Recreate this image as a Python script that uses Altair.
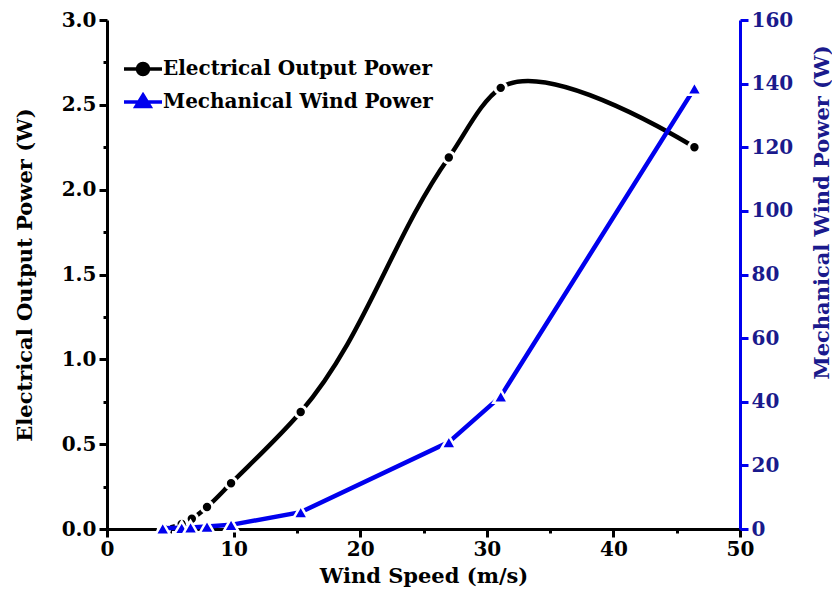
import altair as alt
import pandas as pd

# Electrical output power (left axis)
ws_elec = [4.5, 5.9, 6.7, 7.9, 9.8, 15.3, 27.0, 31.1, 46.4]
p_elec = [0.0, 0.03, 0.06, 0.13, 0.27, 0.69, 2.19, 2.60, 2.25]
# Mechanical wind power (right axis)
ws_mech = [4.4, 5.9, 6.6, 7.9, 9.8, 15.3, 27.0, 31.1, 46.4]
p_mech = [0.2, 0.4, 0.5, 0.8, 1.3, 5.3, 27.3, 41.7, 138.5]

series_names = ["Electrical Output Power", "Mechanical Wind Power"]
series_colors = ["#000000", "#0000ee"]
x_ticks = [0, 5, 10, 15, 20, 25, 30, 35, 40, 45, 50]
yl_ticks = [i * 0.25 for i in range(13)]
yr_ticks = [i * 10 for i in range(17)]

FONT = "DejaVu Serif"
BLUE = "#0000ee"
NAVY = "#1a1a8c"

elec = pd.DataFrame({"ws": ws_elec, "p": p_elec})
mech = pd.DataFrame({"ws": ws_mech, "p": p_mech})
leg = pd.DataFrame({"ws": [0, 0], "p": [0, 0], "s": series_names})

x_enc = alt.X(
    "ws:Q",
    scale=alt.Scale(domain=[0, 50], nice=False),
    axis=alt.Axis(
        title="Wind Speed (m/s)",
        values=x_ticks,
        labelExpr="datum.value % 10 == 0 ? datum.label : ''",
        tickSize={"condition": {"test": "datum.value % 10 != 0", "value": 4}, "value": 8},
        labelFlush=False,
        labelOverlap=False,
        grid=False,
        domainColor="black",
        tickColor="black",
        domainWidth=3,
        tickWidth=3,
        labelFont=FONT,
        labelFontSize=20,
        labelFontWeight="bold",
        labelColor="black",
        labelPadding=2,
        titleFont=FONT,
        titleFontSize=21,
        titleFontWeight="bold",
        titleColor="black",
        titlePadding=6,
    ),
)

yl_scale = alt.Scale(domain=[0, 3.0], nice=False)
yl_axis = alt.Axis(
    title="Electrical Output Power (W)",
    values=yl_ticks,
    labelExpr="datum.value % 0.5 == 0 ? format(datum.value, '.1f') : ''",
    tickSize={"condition": {"test": "datum.value % 0.5 != 0", "value": 4}, "value": 8},
    labelOverlap=False,
    labelFlush=False,
    grid=False,
    domainColor="black",
    tickColor="black",
    domainWidth=3,
    tickWidth=3,
    labelFont=FONT,
    labelFontSize=20,
    labelFontWeight="bold",
    labelColor="black",
    labelPadding=3,
    titleFont=FONT,
    titleFontSize=21,
    titleFontWeight="bold",
    titleColor="black",
    titleX=-82,
    titleBaseline="middle",
)

yr_scale = alt.Scale(domain=[0, 160], nice=False)
yr_axis = alt.Axis(
    title="Mechanical Wind Power (W)",
    orient="right",
    values=yr_ticks,
    labelExpr="datum.value % 20 == 0 ? datum.label : ''",
    tickSize={"condition": {"test": "datum.value % 20 != 0", "value": 4}, "value": 8},
    labelOverlap=False,
    labelFlush=False,
    grid=False,
    domainColor=BLUE,
    tickColor=BLUE,
    domainWidth=3,
    tickWidth=3,
    labelFont=FONT,
    labelFontSize=20,
    labelFontWeight="bold",
    labelColor=NAVY,
    labelPadding=3,
    titleFont=FONT,
    titleFontSize=21,
    titleFontWeight="bold",
    titleColor=NAVY,
    titleAngle=270,
    titleX=82,
    titleY=192,
    titleBaseline="middle",
)

elec_line = alt.Chart(elec).mark_line(
    color="black", strokeWidth=4.5, interpolate="catmull-rom", tension=1
).encode(x=x_enc, y=alt.Y("p:Q", scale=yl_scale, axis=yl_axis))
elec_pts = alt.Chart(elec).mark_point(
    shape="circle", filled=True, color="black", size=130, opacity=1,
    stroke="white", strokeWidth=3,
).encode(x="ws:Q", y=alt.Y("p:Q", scale=yl_scale))

circle_path = "M-1.9,0H1.9M0.55,0A0.55,0.55 0 1,1 -0.55,0A0.55,0.55 0 1,1 0.55,0Z"
tri_path = "M-1.9,0H1.9M0,-0.7L0.7,0.45L-0.7,0.45Z"

legend_layer = alt.Chart(leg).mark_point(opacity=1, strokeWidth=3.5).encode(
    x="ws:Q",
    y=alt.Y("p:Q", scale=yl_scale),
    fill=alt.Fill("s:N", scale=alt.Scale(domain=series_names, range=series_colors),
                  legend=alt.Legend(title=None)),
    stroke=alt.Stroke("s:N", scale=alt.Scale(domain=series_names, range=series_colors),
                      legend=alt.Legend(title=None)),
    shape=alt.Shape("s:N", scale=alt.Scale(domain=series_names, range=[circle_path, tri_path]),
                    legend=alt.Legend(title=None)),
).transform_filter("false")

mech_line = alt.Chart(mech).mark_line(
    color=BLUE, strokeWidth=4.5, interpolate="linear"
).encode(x="ws:Q", y=alt.Y("p:Q", scale=yr_scale, axis=yr_axis))
mech_pts = alt.Chart(mech).mark_point(
    shape="triangle-up", filled=True, color=BLUE, size=220, opacity=1,
    stroke="white", strokeWidth=2.5,
).encode(x="ws:Q", y=alt.Y("p:Q", scale=yr_scale))

left = alt.layer(elec_line, elec_pts, legend_layer)
right = alt.layer(mech_line, mech_pts)

chart = (
    alt.layer(left, right)
    .resolve_scale(y="independent")
    .properties(
        width=633,
        height=509,
        autosize=alt.AutoSizeParams(type="none"),
        padding={"left": 99, "top": 12, "right": 92, "bottom": 80},
        background="white",
    )
    .configure_view(stroke=None)
    .configure_legend(
        orient="none",
        legendX=24,
        legendY=37,
        padding=0,
        symbolSize=400,
        symbolStrokeWidth=3.5,
        labelFont=FONT,
        labelFontSize=20,
        labelFontWeight="bold",
        labelColor="black",
        labelOffset=8,
        rowPadding=6,
        labelLimit=400,
    )
)

chart.save("out.html", embed_options={"renderer": "svg", "actions": False})
